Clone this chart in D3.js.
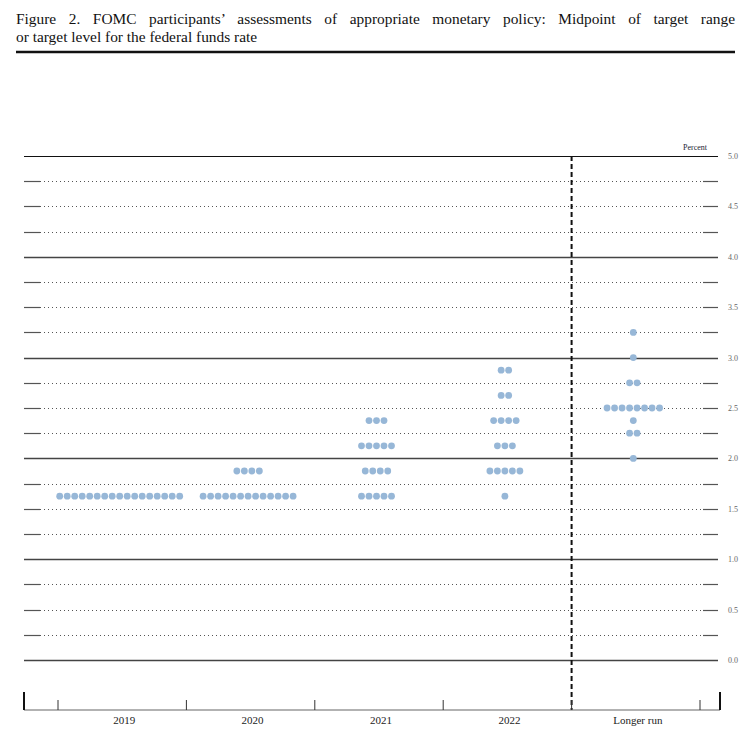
<!DOCTYPE html>
<html>
<head>
<meta charset="utf-8">
<script src="https://cdn.jsdelivr.net/npm/d3@7"></script>
<style>
  body { margin: 0; background: #fff; }
  svg { display: block; }
</style>
</head>
<body>
<script>
// categories on the x axis
var periods = ["2019", "2020", "2021", "2022", "Longer run"];

// participants' projections: [midpoint, number of participants]
var dots2019 = [[1.625, 17]];
var dots2020 = [[1.875, 4], [1.625, 13]];
var dots2021 = [[2.375, 3], [2.125, 5], [1.875, 4], [1.625, 5]];
var dots2022 = [[2.875, 2], [2.625, 2], [2.375, 4], [2.125, 3], [1.875, 5], [1.625, 1]];
var dotsLonger = [[3.25, 1], [3.0, 1], [2.75, 2], [2.5, 8], [2.375, 1], [2.25, 2], [2.0, 1]];

// y gridlines and labels
var gridValues = d3.range(0, 5.001, 0.25);
var labelValues = ["0.0", "0.5", "1.0", "1.5", "2.0", "2.5", "3.0", "3.5", "4.0", "4.5", "5.0"];

var titleLines = [
  "Figure 2. FOMC participants\u2019 assessments of appropriate monetary policy: Midpoint of target range",
  "or target level for the federal funds rate"
];

var width = 751, height = 743;

var svg = d3.select("body").append("svg")
    .attr("width", width)
    .attr("height", height);

// title
var t1 = svg.append("text")
    .attr("x", 16)
    .attr("y", 24)
    .attr("font-family", "Liberation Serif, serif")
    .attr("font-size", "15.4px")
    .attr("fill", "#111")
    .text(titleLines[0]);

// justify first line by widening the word gaps
var natural = t1.node().getComputedTextLength();
var gaps = titleLines[0].split(" ").length - 1;
t1.style("word-spacing", ((719 - natural) / gaps) + "px");

svg.append("text")
    .attr("x", 16)
    .attr("y", 42)
    .attr("font-family", "Liberation Serif, serif")
    .attr("font-size", "15.4px")
    .attr("fill", "#111")
    .text(titleLines[1]);

svg.append("line")
    .attr("x1", 16).attr("x2", 735)
    .attr("y1", 52).attr("y2", 52)
    .attr("stroke", "#111")
    .attr("stroke-width", 2.4);

// scales
var y = d3.scaleLinear().domain([0, 5]).range([660, 156]);
var x = d3.scaleBand().domain(periods).range([58, 700]);

var left = 24, right = 718, inL = 40, inR = 703;

// gridlines
gridValues.forEach(function(v) {
  var major = Math.abs(v - Math.round(v)) < 1e-6;
  var yy = Math.round(y(v)) + 0.5;
  if (major) {
    svg.append("line")
        .attr("x1", left).attr("x2", right)
        .attr("y1", yy).attr("y2", yy)
        .attr("stroke", v === 5 ? "#111" : "#444")
        .attr("stroke-width", v === 5 ? 1.2 : 1.5);
  } else {
    svg.append("line")
        .attr("x1", inL).attr("x2", inR)
        .attr("y1", yy).attr("y2", yy)
        .attr("stroke", "#555")
        .attr("stroke-width", 1)
        .attr("stroke-dasharray", "1,3");
    [[left, inL], [inR, right]].forEach(function(s) {
      svg.append("line")
          .attr("x1", s[0]).attr("x2", s[1])
          .attr("y1", yy).attr("y2", yy)
          .attr("stroke", "#555")
          .attr("stroke-width", 1.2);
    });
  }
});

// right-hand labels
svg.selectAll("text.ylab")
    .data(labelValues)
  .enter().append("text")
    .attr("class", "ylab")
    .attr("x", 728)
    .attr("y", function(d) { return y(+d) + 3; })
    .attr("font-family", "Liberation Serif, serif")
    .attr("font-size", "8px")
    .attr("fill", "#666")
    .text(function(d) { return d; });

svg.append("text")
    .attr("x", 707)
    .attr("y", 150)
    .attr("text-anchor", "end")
    .attr("font-family", "Liberation Serif, serif")
    .attr("font-size", "8px")
    .attr("fill", "#223")
    .text("Percent");

// dots
var allDots = [dots2019, dots2020, dots2021, dots2022, dotsLonger];
var spacing = 7.5, offset = -2.5;
allDots.forEach(function(rows, k) {
  var cx = x(periods[k]) + x.bandwidth() / 2 + offset;
  rows.forEach(function(r) {
    var n = r[1];
    svg.selectAll(null)
        .data(d3.range(n))
      .enter().append("circle")
        .attr("cx", function(i) { return cx + (i - (n - 1) / 2) * spacing; })
        .attr("cy", y(r[0]))
        .attr("r", 3.4)
        .attr("fill", "#97b7d7");
  });
});

// vertical dashed divider before longer run
var divX = x("Longer run");
svg.append("line")
    .attr("x1", divX).attr("x2", divX)
    .attr("y1", 156).attr("y2", 710)
    .attr("stroke", "#111")
    .attr("stroke-width", 2)
    .attr("stroke-dasharray", "5,3");

// bottom axis
var axisY = 710;
svg.append("line")
    .attr("x1", left).attr("x2", 720)
    .attr("y1", axisY).attr("y2", axisY)
    .attr("stroke", "#666")
    .attr("stroke-width", 1.2);

var tickXs = periods.map(function(p) { return x(p); }).concat([x.range()[1]]);
tickXs.forEach(function(t) {
  svg.append("line")
      .attr("x1", t).attr("x2", t)
      .attr("y1", 700).attr("y2", axisY)
      .attr("stroke", "#333")
      .attr("stroke-width", 1);
});
[left, 720].forEach(function(t) {
  svg.append("line")
      .attr("x1", t).attr("x2", t)
      .attr("y1", 692).attr("y2", axisY)
      .attr("stroke", "#111")
      .attr("stroke-width", 2);
});

svg.selectAll("text.xlab")
    .data(periods)
  .enter().append("text")
    .attr("class", "xlab")
    .attr("x", function(d) { return x(d) + x.bandwidth() / 2 + 2; })
    .attr("y", 724)
    .attr("text-anchor", "middle")
    .attr("font-family", "Liberation Serif, serif")
    .attr("font-size", "11px")
    .attr("fill", "#222")
    .text(function(d) { return d; });
</script>
</body>
</html>
